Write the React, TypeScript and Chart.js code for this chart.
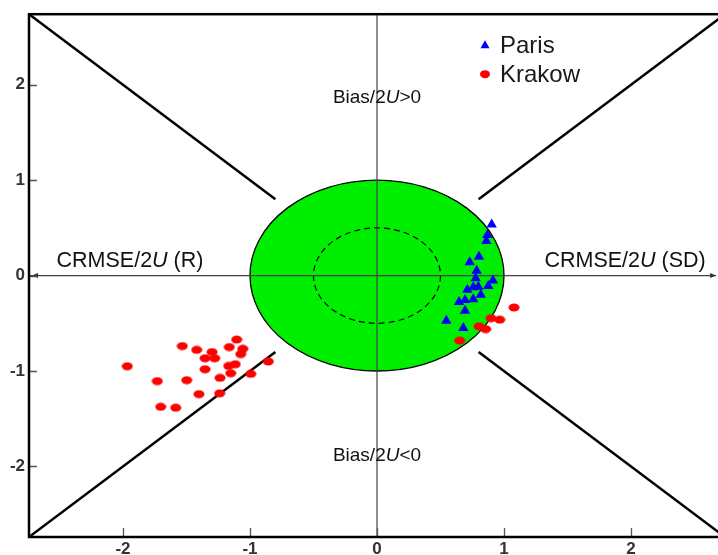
import { useEffect, useRef } from 'react';
import { Chart, registerables } from 'chart.js';

Chart.register(...registerables);

// ---- data ----
const axisMin = -2.74;
const axisMax = 2.74;
const xTicks = [-2, -1, 0, 1, 2];
const yTicks = [-2, -1, 0, 1, 2];

const parisX = [0.903, 0.869, 0.861, 0.803, 0.730, 0.785, 0.777, 0.913, 0.876, 0.798, 0.758, 0.711, 0.817, 0.758, 0.693, 0.646, 0.693, 0.546, 0.680];
const parisY = [0.535, 0.425, 0.362, 0.198, 0.139, 0.052, -0.028, -0.052, -0.108, -0.118, -0.122, -0.149, -0.201, -0.247, -0.256, -0.277, -0.368, -0.473, -0.550];

const krakowX = [-1.966, -1.730, -1.498, -1.703, -1.585, -1.533, -1.420, -1.299, -1.354, -1.278, -1.105, -1.163, -1.057, -1.073, -1.354, -1.168, -1.116, -1.152, -1.236, -1.402, -1.239, -0.994, -0.856, 1.079, 0.898, 0.966, 0.803, 0.856, 0.651];
const krakowY = [-0.950, -1.106, -1.096, -1.375, -1.385, -0.738, -0.778, -0.801, -0.866, -0.866, -0.670, -0.749, -0.767, -0.822, -0.981, -0.947, -0.929, -1.023, -1.072, -1.242, -1.234, -1.030, -0.900, -0.334, -0.446, -0.462, -0.532, -0.561, -0.681];

// diagonal separators y = ±x, from inner radius to the frame corners
const diagInner = 0.8;
const diagOuter = 2.74;
const diagDirs = [[-1, 1], [1, 1], [-1, -1], [1, -1]];

const targetRadius = 1;
const innerRadius = 0.5;

const seriesNames = ['Paris', 'Krakow'];

const FONT = "'Liberation Sans', Arial, Helvetica, sans-serif";
const GREEN = '#00ee00';

function makeEllipse(w: number, h: number, color: string) {
  const c = document.createElement('canvas');
  c.width = w;
  c.height = h;
  const g = c.getContext('2d')!;
  g.fillStyle = color;
  g.beginPath();
  g.ellipse(w / 2, h / 2, w / 2 - 0.5, h / 2 - 0.5, 0, 0, Math.PI * 2);
  g.fill();
  return c;
}

function drawMixed(ctx: CanvasRenderingContext2D, parts: [string, boolean][], cx: number, cy: number, size: number) {
  const fonts = parts.map(([, it]) => `${it ? 'italic ' : ''}${size}px ${FONT}`);
  let total = 0;
  const widths = parts.map(([t], i) => {
    ctx.font = fonts[i];
    const w = ctx.measureText(t).width;
    total += w;
    return w;
  });
  let xpos = cx - total / 2;
  ctx.textBaseline = 'middle';
  ctx.textAlign = 'left';
  parts.forEach(([t], i) => {
    ctx.font = fonts[i];
    ctx.fillText(t, xpos, cy);
    xpos += widths[i];
  });
}

const targetPlugin = {
  id: 'targetPlugin',
  beforeDatasetsDraw(chart: any) {
    const { ctx, chartArea: a, scales } = chart;
    const x = scales.x;
    const y = scales.y;
    const cx = x.getPixelForValue(0);
    const cy = y.getPixelForValue(0);
    const rx = x.getPixelForValue(targetRadius) - cx;
    const ry = cy - y.getPixelForValue(targetRadius);
    ctx.save();
    ctx.beginPath();
    ctx.ellipse(cx, cy, rx, ry, 0, 0, Math.PI * 2);
    ctx.fillStyle = GREEN;
    ctx.fill();
    ctx.lineWidth = 1.3;
    ctx.strokeStyle = '#000';
    ctx.stroke();

    const irx = x.getPixelForValue(innerRadius) - cx;
    const iry = cy - y.getPixelForValue(innerRadius);
    ctx.beginPath();
    ctx.setLineDash([6, 4]);
    ctx.ellipse(cx, cy, irx, iry, 0, 0, Math.PI * 2);
    ctx.lineWidth = 1.2;
    ctx.stroke();
    ctx.setLineDash([]);

    // center axes
    ctx.strokeStyle = '#444';
    ctx.lineWidth = 1.2;
    const rightEnd = x.getPixelForValue(2.67);
    ctx.beginPath();
    ctx.moveTo(a.left, cy);
    ctx.lineTo(rightEnd, cy);
    ctx.moveTo(cx, a.top);
    ctx.lineTo(cx, a.bottom);
    ctx.stroke();
    ctx.fillStyle = '#333';
    // arrowheads
    const lx = a.left + 3;
    ctx.beginPath();
    ctx.moveTo(lx, cy);
    ctx.lineTo(lx + 6, cy - 2.5);
    ctx.lineTo(lx + 6, cy + 2.5);
    ctx.closePath();
    ctx.fill();
    ctx.beginPath();
    ctx.moveTo(rightEnd, cy);
    ctx.lineTo(rightEnd - 6, cy - 2.5);
    ctx.lineTo(rightEnd - 6, cy + 2.5);
    ctx.closePath();
    ctx.fill();
    ctx.restore();
  },
  afterDatasetsDraw(chart: any) {
    const { ctx, chartArea: a, scales } = chart;
    const x = scales.x;
    const y = scales.y;
    ctx.save();
    // inward ticks
    ctx.strokeStyle = '#555';
    ctx.lineWidth = 1.3;
    ctx.beginPath();
    yTicks.forEach((v) => {
      const py = Math.round(y.getPixelForValue(v)) + 0.5;
      ctx.moveTo(a.left, py);
      ctx.lineTo(a.left + 8, py);
    });
    xTicks.forEach((v) => {
      const px = Math.round(x.getPixelForValue(v)) + 0.5;
      ctx.moveTo(px, a.bottom);
      ctx.lineTo(px, a.bottom - 9);
    });
    ctx.stroke();

    // frame
    ctx.strokeStyle = '#000';
    ctx.lineWidth = 2.5;
    ctx.strokeRect(a.left, a.top, a.width, a.height);

    // region labels
    ctx.fillStyle = '#111';
    drawMixed(ctx, [['Bias/2', false], ['U', true], ['>0', false]], x.getPixelForValue(0), y.getPixelForValue(1.86), 19);
    drawMixed(ctx, [['Bias/2', false], ['U', true], ['<0', false]], x.getPixelForValue(0), y.getPixelForValue(-1.89), 19);
    drawMixed(ctx, [['CRMSE/2', false], ['U', true], [' (R)', false]], x.getPixelForValue(-1.945), y.getPixelForValue(0.156), 21.5);
    drawMixed(ctx, [['CRMSE/2', false], ['U', true], [' (SD)', false]], x.getPixelForValue(1.953), y.getPixelForValue(0.156), 21.5);

    // legend
    const lgx = a.left + 456;
    const lgy1 = a.top + 31;
    const lgy2 = a.top + 60;
    ctx.fillStyle = '#0000ff';
    ctx.beginPath();
    ctx.moveTo(lgx, lgy1 - 5);
    ctx.lineTo(lgx + 4.5, lgy1 + 3);
    ctx.lineTo(lgx - 4.5, lgy1 + 3);
    ctx.closePath();
    ctx.fill();
    ctx.fillStyle = '#ff0000';
    ctx.beginPath();
    ctx.ellipse(lgx, lgy2, 5, 4, 0, 0, Math.PI * 2);
    ctx.fill();
    ctx.fillStyle = '#1a1a1a';
    ctx.font = `24px ${FONT}`;
    ctx.textAlign = 'left';
    ctx.textBaseline = 'middle';
    ctx.fillText(seriesNames[0], lgx + 15, lgy1 + 1);
    ctx.fillText(seriesNames[1], lgx + 15, lgy2 + 1);
    ctx.restore();
  },
};

export default function App() {
  const ref = useRef<HTMLCanvasElement | null>(null);
  useEffect(() => {
    const canvas = ref.current!;
    const redDot = makeEllipse(12, 9, '#ff0000');
    const diagSets = diagDirs.map(([sx, sy]) => ({
      type: 'line' as const,
      data: [
        { x: sx * diagOuter, y: sy * diagOuter },
        { x: sx * diagInner, y: sy * diagInner },
      ],
      showLine: true,
      borderColor: '#000',
      borderWidth: 2.5,
      pointRadius: 0,
      fill: false,
      order: 2,
    }));
    const chart = new Chart(canvas, {
      type: 'scatter',
      data: {
        datasets: [
          ...diagSets,
          {
            label: seriesNames[0],
            data: parisX.map((v, i) => ({ x: v, y: parisY[i] })),
            pointStyle: 'triangle',
            pointRadius: 6,
            backgroundColor: '#0000ff',
            borderColor: '#0000ff',
            borderWidth: 0,
            order: 0,
          },
          {
            label: seriesNames[1],
            data: krakowX.map((v, i) => ({ x: v, y: krakowY[i] })),
            pointStyle: redDot,
            pointRadius: 6,
            backgroundColor: '#ff0000',
            borderColor: '#ff0000',
            order: 1,
          },
        ] as any,
      },
      options: {
        animation: false,
        responsive: false,
        devicePixelRatio: 1,
        layout: { padding: { left: 0, top: 11, right: 55, bottom: 33 } },
        plugins: { legend: { display: false }, tooltip: { enabled: false } },
        scales: {
          x: {
            type: 'linear',
            min: axisMin,
            max: axisMax,
            grid: { display: false, drawTicks: false },
            border: { display: false },
            afterBuildTicks: (s: any) => { s.ticks = xTicks.map((v) => ({ value: v })); },
            afterFit: (s: any) => { s.height = 30; },
            ticks: { color: '#333', padding: 2, font: { size: 17, weight: 'bold', family: FONT } },
          },
          y: {
            type: 'linear',
            min: axisMin,
            max: axisMax,
            grid: { display: false, drawTicks: false },
            border: { display: false },
            afterBuildTicks: (s: any) => { s.ticks = yTicks.map((v) => ({ value: v })); },
            afterFit: (s: any) => { s.width = 29; },
            ticks: { color: '#333', padding: 4, font: { size: 17, weight: 'bold', family: FONT } },
          },
        },
      } as any,
      plugins: [targetPlugin],
    });
    return () => chart.destroy();
  }, []);
  return (
    <div style={{ position: 'fixed', left: 0, top: 0, width: 718, height: 555, overflow: 'hidden', background: '#fff' }}>
      <canvas ref={ref} width={780} height={600} style={{ position: 'absolute', left: 0, top: 0, width: 780, height: 600 }} />
    </div>
  );
}
